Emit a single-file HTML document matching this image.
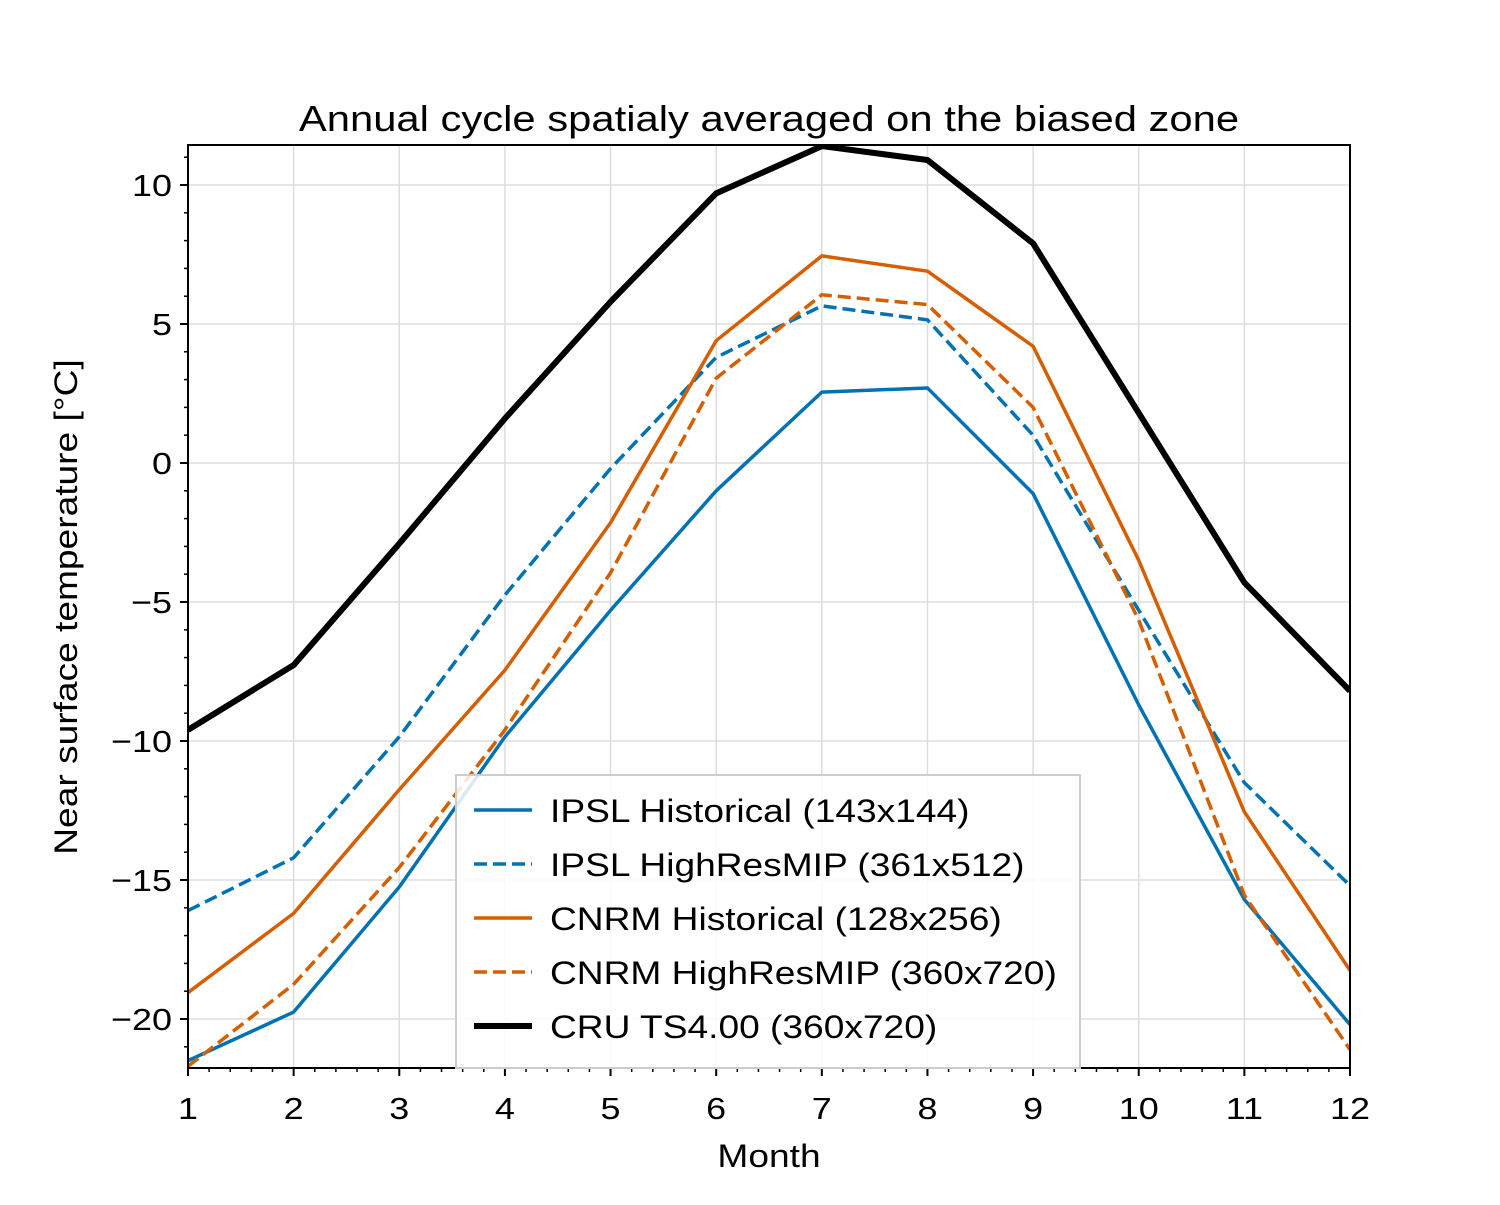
<!DOCTYPE html>
<html><head><meta charset="utf-8"><style>
body{margin:0;background:#fff;font-family:"Liberation Sans",sans-serif;}
svg text{font-family:"Liberation Sans",sans-serif;fill:#000;}
</style></head><body>
<svg id="chart" width="1500" height="1200" xmlns="http://www.w3.org/2000/svg"><defs><clipPath id="clip"><rect x="188" y="145" width="1162" height="923"/></clipPath></defs></svg>
<script>
const months=[1,2,3,4,5,6,7,8,9,10,11,12];
const cru=[-9.6,-7.27,-2.9,1.6,5.8,9.7,11.4,10.9,7.9,1.8,-4.3,-8.2];
const ipslHist=[-21.5,-19.75,-15.25,-9.85,-5.3,-1.0,2.55,2.7,-1.1,-8.7,-15.7,-20.2];
const ipslHR=[-16.1,-14.2,-9.85,-4.75,-0.2,3.8,5.65,5.15,1.0,-5.3,-11.5,-15.2];
const cnrmHist=[-19.05,-16.2,-11.75,-7.45,-2.15,4.4,7.45,6.9,4.2,-3.5,-12.55,-18.25];
const cnrmHR=[-21.7,-18.75,-14.55,-9.6,-3.95,3.05,6.05,5.7,2.0,-5.65,-15.55,-21.1];
const yTicks=[10,5,0,-5,-10,-15,-20];
const yTickLabels=["10","5","0","\u22125","\u221210","\u221215","\u221220"];
const xTickLabels=["1","2","3","4","5","6","7","8","9","10","11","12"];

const L=188,R=1350,T=145,B=1068;
const X=m=>L+(m-1)*(R-L)/11;
const Y=v=>463-v*27.8;
const svg=document.getElementById('chart');
const NS='http://www.w3.org/2000/svg';
function mk(tag,attrs,parent){const e=document.createElementNS(NS,tag);for(const k in attrs)e.setAttribute(k,attrs[k]);(parent||svg).appendChild(e);return e;}
function widen(t,f){const w=t.getComputedTextLength();t.setAttribute('textLength',(w*f).toFixed(1));t.setAttribute('lengthAdjust','spacingAndGlyphs');}
const F=1.16;

const grid=mk('g',{});


months.forEach(m=>mk('line',{x1:X(m),x2:X(m),y1:T,y2:B,stroke:'#ddd','stroke-width':1.5},grid));
yTicks.forEach(v=>mk('line',{x1:L,x2:R,y1:Y(v),y2:Y(v),stroke:'#ddd','stroke-width':1.5},grid));

const series=[
 {d:ipslHist,c:'#0072b2',w:3.5,dash:null,n:'ipsl-historical-line',lab:'IPSL Historical (143x144)'},
 {d:ipslHR,c:'#0072b2',w:3.5,dash:'13,6',n:'ipsl-highresmip-line',lab:'IPSL HighResMIP (361x512)'},
 {d:cnrmHist,c:'#d55e00',w:3.5,dash:null,n:'cnrm-historical-line',lab:'CNRM Historical (128x256)'},
 {d:cnrmHR,c:'#d55e00',w:3.5,dash:'13,6',n:'cnrm-highresmip-line',lab:'CNRM HighResMIP (360x720)'},
 {d:cru,c:'#000',w:6,dash:null,n:'cru-ts400-line',lab:'CRU TS4.00 (360x720)'}
];
series.forEach(s=>{
 const p=mk('polyline',{points:s.d.map((v,i)=>X(months[i])+','+Y(v)).join(' '),fill:'none',stroke:s.c,'stroke-width':s.w,'stroke-linejoin':'round','clip-path':'url(#clip)'});
 if(s.dash)p.setAttribute('stroke-dasharray',s.dash);
 
 
});

const fr=mk('rect',{x:L,y:T,width:R-L,height:B-T,fill:'none',stroke:'#000','stroke-width':2});



for(let v=-21;v<=11;v++){const maj=v%5===0;mk('line',{x1:L,x2:L-(maj?8:4),y1:Y(v),y2:Y(v),stroke:'#000','stroke-width':maj?2:1.5});}
for(let k=0;k<=55;k++){const mm=1+k*0.2;const maj=k%5===0;mk('line',{x1:X(mm),x2:X(mm),y1:B,y2:B+(maj?8:4),stroke:'#000','stroke-width':maj?2:1.5});}
yTicks.forEach((v,i)=>{const t=mk('text',{x:L-16,y:Y(v)+11,'text-anchor':'end','font-size':31});t.textContent=yTickLabels[i];widen(t,F);});
months.forEach((m,i)=>{const t=mk('text',{x:X(m),y:B+51,'text-anchor':'middle','font-size':31});t.textContent=xTickLabels[i];widen(t,F);});

let t=mk('text',{x:769,y:1167,'text-anchor':'middle','font-size':32});t.textContent='Month';
widen(t,F);
t=mk('text',{x:0,y:0,'text-anchor':'middle','font-size':32,transform:'translate(77,607) rotate(-90)'});t.textContent='Near surface temperature [°C]';
widen(t,F);
t=mk('text',{x:769,y:131,'text-anchor':'middle','font-size':36});t.textContent='Annual cycle spatialy averaged on the biased zone';
widen(t,F);

const lg=mk('g',{});


mk('rect',{x:456,y:775,width:624,height:293,fill:'#fff','fill-opacity':0.85,stroke:'#ccc','stroke-width':2},lg);
series.forEach((s,i)=>{
 const y=810+i*54;
 const e=mk('g',{},lg);
 
 
 const l=mk('line',{x1:474,x2:532,y1:y,y2:y,stroke:s.c,'stroke-width':s.w},e);
 if(s.dash)l.setAttribute('stroke-dasharray',s.dash);
 const tx=mk('text',{x:550,y:y+12,'font-size':32},e);tx.textContent=s.lab;widen(tx,F);
});
</script>
</body></html>
